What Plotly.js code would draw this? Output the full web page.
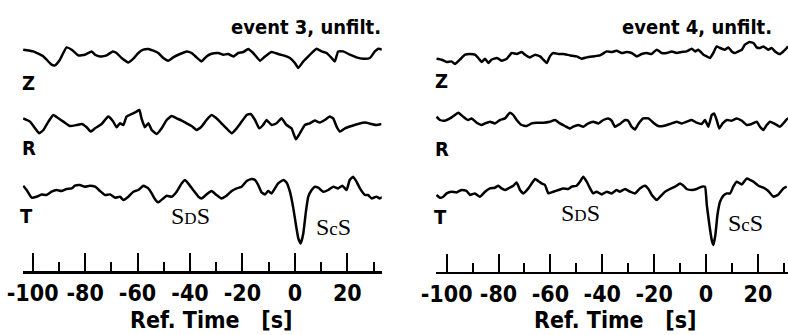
<!DOCTYPE html>
<html><head><meta charset="utf-8">
<script src="https://cdn.plot.ly/plotly-3.0.1.min.js"></script>
<style>html,body{margin:0;padding:0;background:#fff}#chart{width:788px;height:335px}</style>
</head><body><div id="chart"></div>
<script>
// ---------------- data (time in s, amplitude in arbitrary units) ----------------
const ev3_Z_t = [-103.6,-99.8,-95.9,-92.8,-91.5,-89.6,-87.1,-85.1,-82.6,-80.1,-77.5,-76.2,-74.3,-71.8,-69.5,-68.0,-66.1,-63.5,-61.6,-59.7,-57.8,-55.9,-54.0,-52.1,-50.2,-48.3,-46.4,-43.8,-41.3,-39.4,-37.5,-35.6,-33.7,-31.8,-29.2,-27.3,-25.4,-23.5,-21.6,-19.7,-17.8,-15.9,-13.3,-11.4,-8.9,-6.4,-4.4,-1.9,0,1.3,3.2,5.1,7.0,8.3,10.2,12.1,14.0,15.2,16.5,18.4,21.0,23.5,26.1,28.6,30.5,31.8,33.7];
const ev3_Z_a = [5.0,3.3,-1.7,-10.0,-10.7,-5.0,7.3,5.0,-0.7,0,3.3,0,-1.7,-0.7,3.3,1.7,-3.3,-7.7,-4.0,1.7,5.0,5.7,4.0,1.7,-3.3,-6.0,-2.7,0.7,3.3,1.7,-2.7,-6.7,-1.7,1.0,1.7,0,0.7,-1.7,1.7,2.7,5.7,1.7,-6.0,-1.7,2.7,0.7,-0.7,-3.3,-8.3,-13.3,-6.7,-1.7,3.3,6.0,3.3,1.7,-3.3,-6.7,3.3,3.3,0,-2.7,-4.0,-3.3,3.3,6.0,5.0];

const ev3_R_t = [-103.6,-101.0,-99.1,-97.5,-95.9,-94.0,-92.1,-90.2,-88.3,-85.8,-83.2,-81.3,-79.4,-77.9,-76.2,-73.7,-71.2,-69.3,-68.0,-66.7,-65.4,-64.2,-62.3,-60.4,-59.3,-58.5,-57.2,-55.9,-54.6,-52.7,-50.8,-48.9,-47.0,-45.1,-43.2,-41.3,-39.4,-37.5,-35.6,-33.7,-31.8,-29.9,-28.0,-26.1,-24.1,-22.2,-20.3,-18.4,-16.9,-15.2,-13.6,-12.1,-10.8,-8.9,-7.0,-5.1,-3.2,-1.3,0.4,1.9,3.8,5.7,7.6,9.5,11.4,13.3,14.6,15.9,17.2,19.1,21.6,24.1,26.7,29.2,31.1,33.0];
const ev3_R_a = [5.0,1.7,-5.0,-10.0,-6.7,1.7,8.3,5.0,1.7,-2.7,-1.7,-0.7,-4.0,-8.3,-5.0,-0.7,6.7,1.7,-4.0,0,-1.7,6.7,9.3,11.7,13.3,5.0,-4.0,0,-6.7,-10.7,-5.0,3.3,7.3,5.0,2.7,0,-2.7,-6.7,-3.3,3.3,8.3,5.0,0,-5.0,-10.0,-5.0,1.7,8.3,9.3,3.3,-5.0,-1.7,3.3,-1.7,0,5.0,-1.7,-5.0,-16.0,-10.0,-1.7,0,2.7,0.7,3.3,6.7,5.0,-3.3,-8.3,-5.0,-2.7,-0.7,0.7,-0.7,-1.7,-0.7];

const ev3_T_t = [-103.6,-102.3,-100.4,-98.5,-96.6,-94.7,-92.8,-90.9,-89.0,-87.1,-85.1,-83.9,-82.0,-80.1,-78.2,-76.2,-74.3,-72.4,-70.5,-68.6,-66.7,-65.4,-63.5,-61.6,-59.7,-57.8,-55.9,-54.6,-53.4,-52.1,-50.2,-48.9,-47.0,-45.1,-43.2,-41.9,-40.7,-38.8,-36.8,-35.6,-33.7,-31.8,-29.9,-28.0,-26.1,-24.1,-22.2,-20.3,-18.4,-16.5,-15.2,-14.0,-12.7,-11.4,-10.2,-8.9,-7.6,-6.4,-4.4,-3.2,-1.9,-0.6,0.4,1.3,2.2,3.2,4.2,5.1,6.4,7.6,8.9,10.8,12.7,14.6,16.5,18.1,19.7,20.9,22.2,23.5,24.8,26.7,27.9,29.2,31.1,32.4,33.7];
const ev3_T_a = [6.0,1.7,-6.0,-5.0,-2.7,-3.3,0,1.7,0.7,2.7,3.3,6.0,6.7,5.0,6.0,5.0,0.7,-3.3,-2.7,-6.0,-5.0,-8.3,-5.0,0,1.7,6.0,3.3,-1.7,-7.3,-10.7,-6.7,-4.0,-5.0,0,8.3,11.7,8.3,1.7,-5.0,-6.7,-2.7,0.7,-3.3,-6.7,-4.0,0.7,3.3,5.0,10.7,12.7,11.7,6.7,-0.7,-2.7,0.7,-1.7,3.3,8.3,11.7,9.3,0,-16.7,-33.3,-46.7,-51.7,-41.7,-20.0,-5.0,1.7,5.0,4.0,0,1.7,5.0,3.3,6.0,1.7,11.7,15.0,10.0,3.3,-3.3,-3.3,-6.7,-5.0,-6.7,-5.0];

const ev4_Z_t = [-103.9,-101.9,-100.0,-98.1,-96.8,-94.9,-92.9,-91.0,-89.1,-87.8,-86.5,-85.2,-83.9,-82.7,-80.6,-78.7,-76.8,-74.9,-73.0,-71.1,-69.8,-67.9,-65.9,-64.0,-62.7,-61.4,-60.2,-58.9,-56.9,-55.0,-52.4,-49.9,-47.9,-46.0,-43.5,-40.9,-38.3,-36.4,-34.5,-32.5,-30.6,-28.7,-26.7,-24.8,-22.9,-21.0,-19.0,-17.1,-15.2,-13.2,-11.3,-9.4,-7.5,-5.5,-4.2,-3.0,-1.0,0.3,1.5,2.8,4.1,5.4,7.3,8.6,9.9,11.2,12.5,13.8,15.0,16.7,18.3,19.5,20.8,22.1,24.0,25.3,26.6,28.5,29.8,31.1,31.6];
const ev4_Z_a = [-4.0,-5.0,-7.3,-6.7,-9.3,-5.0,0,0.7,0,-3.3,-7.3,-4.0,-8.3,-5.0,-3.3,-6.0,-4.0,1.7,0.7,2.7,0,-2.7,0,-1.7,-5.0,-8.3,-1.7,1.7,0.7,0.7,-0.7,-1.7,-4.0,-2.7,-1.7,-0.7,3.3,2.7,4.0,1.7,2.7,1.7,-1.7,0.7,1.7,0.7,5.0,1.7,1.7,3.3,1.7,2.7,3.3,6.0,3.3,5.0,0,-1.7,-3.3,1.7,8.3,6.7,5.0,7.3,3.3,1.7,3.3,5.0,10.0,12.7,11.7,7.3,6.7,8.3,5.0,6.7,3.3,0.7,3.3,6.7,8.3];

const ev4_R_t = [-103.9,-102.6,-100.7,-98.7,-96.8,-95.5,-93.6,-91.7,-90.4,-88.4,-86.5,-85.2,-83.3,-81.4,-79.4,-77.5,-75.6,-74.3,-73.0,-71.1,-69.2,-67.2,-65.3,-62.7,-60.2,-58.2,-56.3,-54.4,-52.4,-51.2,-49.2,-47.3,-45.4,-43.5,-41.5,-39.6,-37.7,-36.4,-35.1,-33.2,-31.2,-30.0,-28.7,-27.4,-26.1,-24.2,-22.2,-20.3,-18.4,-16.5,-13.9,-11.3,-9.4,-7.5,-5.5,-3.6,-1.7,-0.4,0.9,2.2,3.1,4.1,5.1,6.4,8.0,9.9,11.8,13.8,15.7,17.6,19.5,20.8,22.1,23.4,24.7,26.6,28.5,29.8,31.1,31.8];
const ev4_R_a = [5.0,1.7,1.0,3.3,6.7,9.0,5.0,1.7,3.3,-1.0,-3.3,-1.7,0,-1.7,1.7,3.3,9.0,6.7,1.7,-3.3,-4.3,-1.7,-1.0,-1.0,0,1.7,-1.7,-4.3,-6.7,-5.0,-3.3,-5.0,-1.7,0,-1.7,1.7,3.3,1.0,-5.0,-2.3,1.7,1.0,-5.0,-7.7,-2.3,3.3,3.3,-1.0,-4.3,-4.3,-2.3,0,-1.7,0,1.7,-1.0,-2.3,1.7,-5.0,6.7,8.3,1.7,-6.7,-1.7,1.7,1.0,3.3,1.0,-3.3,-2.3,0,-5.0,-8.3,-3.3,0,-2.3,-5.0,-1.7,2.3,3.3];

const ev4_T_t = [-103.9,-102.6,-101.3,-100.0,-98.1,-96.2,-94.2,-92.3,-91.0,-89.1,-87.2,-85.2,-83.3,-81.4,-80.1,-78.8,-77.5,-76.2,-74.3,-73.0,-71.7,-70.4,-68.5,-67.2,-65.9,-64.7,-63.4,-62.1,-60.8,-58.9,-56.9,-55.0,-53.1,-51.8,-49.9,-48.6,-47.3,-46.0,-44.7,-43.5,-42.2,-40.2,-38.3,-36.4,-34.5,-33.2,-31.2,-29.3,-27.4,-25.5,-23.5,-22.2,-20.9,-19.0,-17.7,-15.8,-13.9,-12.0,-10.0,-8.7,-7.5,-5.5,-3.6,-1.7,-0.4,0.3,1.3,2.2,2.8,3.6,4.4,5.4,6.7,8.0,9.3,10.5,11.8,13.8,15.7,17.0,18.3,20.2,22.1,24.0,26.0,27.9,29.8,31.1];
const ev4_T_a = [-3.3,-6.0,-5.0,-1.7,0,-0.7,1.7,0.7,-3.3,-1.7,-5.0,0,3.3,4.0,6.0,3.3,1.7,3.3,6.0,9.3,1.7,-1.7,3.3,8.3,12.7,10.7,8.3,6.7,-1.7,0,1.7,3.3,2.7,5.0,6.0,10.0,15.0,10.0,3.3,-1.7,0,-2.7,0,-1.7,1.7,0,2.7,0,-1.7,3.3,6.0,2.7,-3.3,-8.3,-5.0,0,2.7,5.0,8.3,6.0,2.7,1.7,2.7,5.0,5.0,-13.3,-33.3,-48.3,-53.3,-43.3,-23.3,-10.0,-4.0,-1.7,-1.7,5.0,10.0,7.3,13.3,11.7,10.0,6.0,4.0,0.7,-5.0,-2.7,3.3,5.0];

const majorTicks = [-100,-80,-60,-40,-20,0,20];
const majorLabels = ['-100','-80','-60','-40','-20','0','20'];
const minorTicks = [-90,-70,-50,-30,-10,10,30];
const componentNames = ['Z','R','T'];
const panelTitles = ['event 3, unfilt.','event 4, unfilt.'];
const axisTitle = 'Ref. Time\u00a0\u00a0\u00a0[s]';

// ---------------- layout helpers ----------------
const W = 788, H = 335;
const SANS = '"DejaVu Sans Condensed","Liberation Sans",sans-serif';
const SERIF = '"Liberation Serif","DejaVu Serif",serif';
const traceBase = [[54.7,123.3,191.7],[54.7,121.7,191.7]]; // vertical offsets (px) of Z,R,T
const panels = [
  {xa:'x', ya:'y', x0:22.7, x1:381.7, range:[-103.8,33.1], axisY:271, series:[[ev3_Z_t,ev3_Z_a],[ev3_R_t,ev3_R_a],[ev3_T_t,ev3_T_a]]},
  {xa:'x2', ya:'y2', x0:436, x1:788, range:[-104.1,31.6], axisY:271.7, series:[[ev4_Z_t,ev4_Z_a],[ev4_R_t,ev4_R_a],[ev4_T_t,ev4_T_a]]}
];

const data = [];
panels.forEach((p, pi) => {
  p.series.forEach((s, si) => {
    data.push({
      type:'scatter', mode:'lines', x:s[0], y:s[1].map(v => v - traceBase[pi][si]),
      xaxis:p.xa, yaxis:p.ya, line:{color:'#000', width:2.5, shape:'spline', smoothing:0.4},
      hoverinfo:'skip', showlegend:false
    });
  });
});

function xAxis(p){
  return {
    domain:[p.x0/W, p.x1/W], range:p.range, anchor:p.ya,
    showline:true, linecolor:'#000', linewidth:2.5, zeroline:false, showgrid:false,
    ticks:'inside', ticklen:18, tickwidth:2, tickcolor:'#000',
    tickmode:'array', tickvals:majorTicks, ticktext:majorLabels,
    tickfont:{family:SANS, size:23, color:'#000', weight:700},
    minor:{tickmode:'array', tickvals:minorTicks, ticks:'inside', ticklen:9, tickwidth:2, tickcolor:'#000', showgrid:false},
    fixedrange:true
  };
}
function yAxis(p){
  return {domain:[1 - p.axisY/H, 1], range:[-p.axisY, 0], visible:false, fixedrange:true};
}

const ann = [];
function paperAnn(text, px, py, size, family, xanchor, yanchor){
  ann.push({xref:'paper', yref:'paper', x:px/W, y:1-py/H, text:text, showarrow:false,
    xanchor:xanchor||'center', yanchor:yanchor||'middle', font:{family:family, size:size, color:'#000', weight:700}});
}
// panel titles
paperAnn(panelTitles[0], 383, 27, 20, SANS, 'right');
paperAnn(panelTitles[1], 774, 27, 20, SANS, 'right');
// component letters
const letterPos = [[[28,83],[29,148],[26,216]],[[442,81],[442,149],[440,217]]];
letterPos.forEach(lp => lp.forEach((pos, i) => paperAnn(componentNames[i], pos[0], pos[1], 20, SANS, 'center')));
// axis titles (anchored to bottom edge)
paperAnn(axisTitle, 211, 335, 23, SANS, 'center', 'bottom');
paperAnn(axisTitle, 615, 335, 23, SANS, 'center', 'bottom');
// phase labels
function phaseAnn(text, px, py){
  ann.push({xref:'paper', yref:'paper', x:px/W, y:1-py/H, text:text, showarrow:false, xanchor:'center', yanchor:'middle',
    font:{family:SERIF, size:24, color:'#000', weight:400}});
}
const SDS = 'S<span style="font-size:17px">D</span>S';
const ScS = 'S<span style="font-size:19px">c</span>S';
phaseAnn(SDS, 190, 216); phaseAnn(ScS, 333, 227);
phaseAnn(SDS, 580, 213); phaseAnn(ScS, 745, 223);

const layout = {
  width:W, height:H, margin:{l:0, r:0, t:0, b:0}, paper_bgcolor:'#fff', plot_bgcolor:'rgba(0,0,0,0)',
  showlegend:false,
  xaxis:xAxis(panels[0]), yaxis:yAxis(panels[0]),
  xaxis2:xAxis(panels[1]), yaxis2:yAxis(panels[1]),
  annotations:ann
};
Plotly.newPlot('chart', data, layout, {staticPlot:true, displayModeBar:false});
</script>
</body></html>
